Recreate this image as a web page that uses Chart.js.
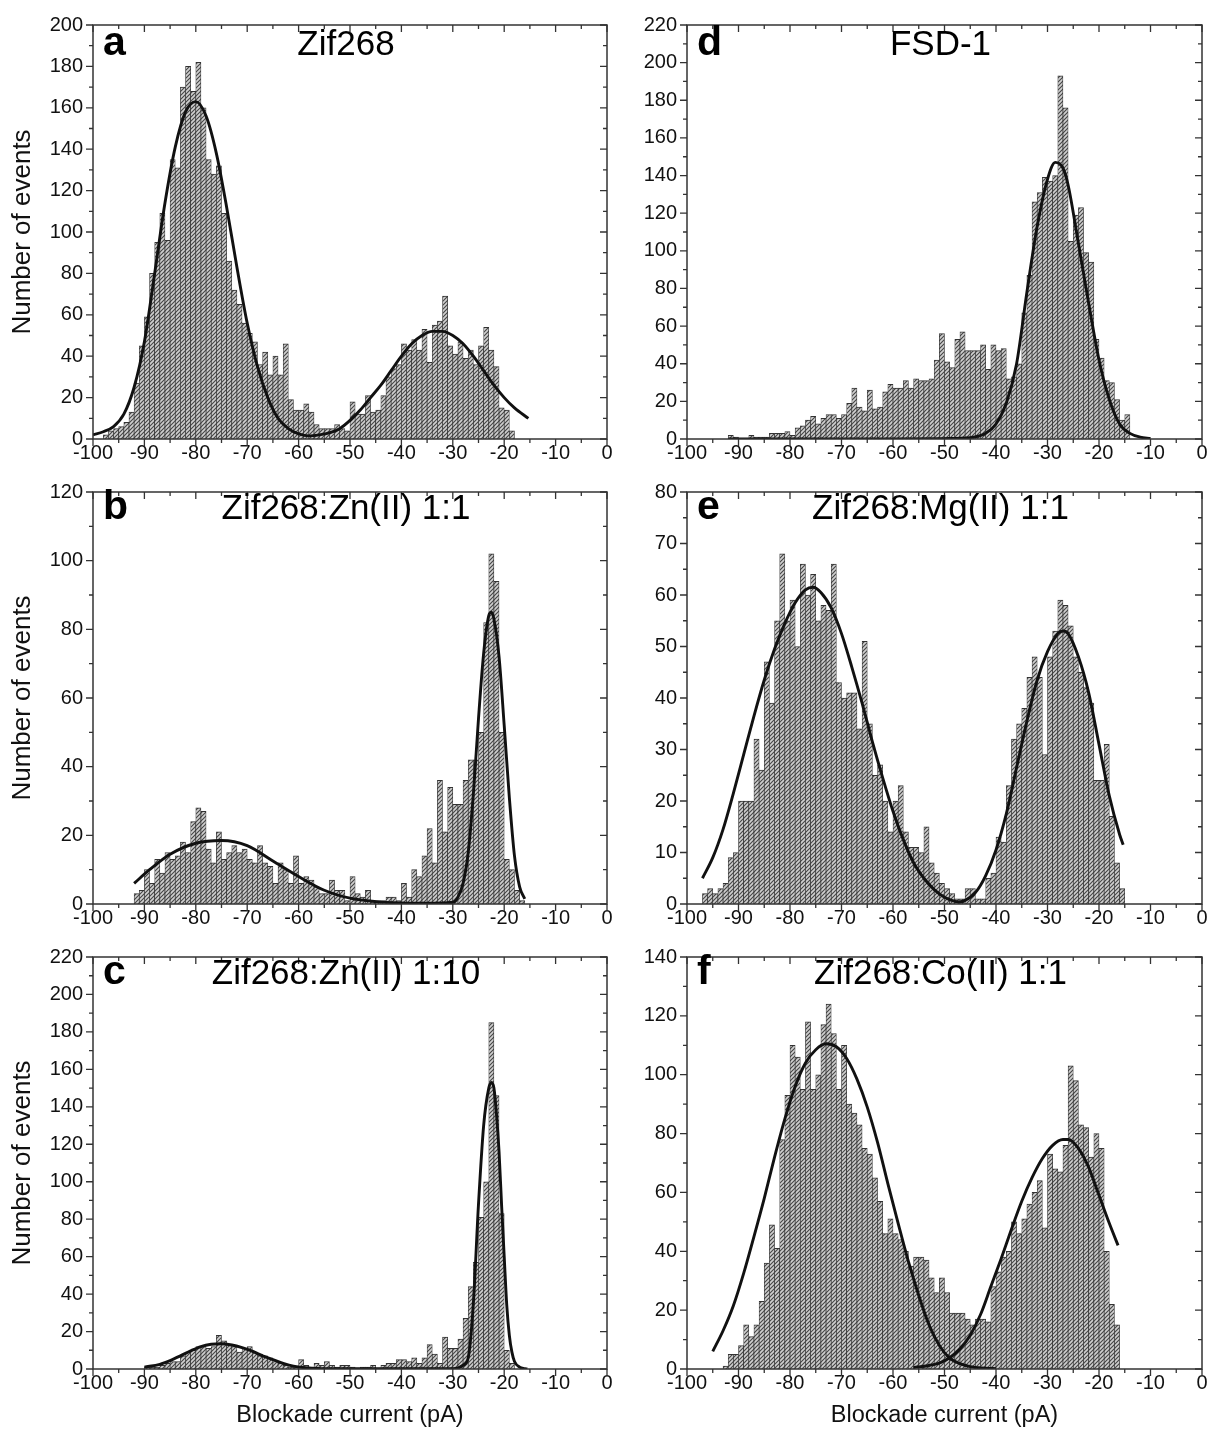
<!DOCTYPE html>
<html>
<head>
<meta charset="utf-8">
<script src="https://cdn.jsdelivr.net/npm/chart.js@4.4.0/dist/chart.umd.min.js"></script>
<style>
  body { margin: 0; background: #fff; width: 1211px; height: 1442px; position: relative; overflow: hidden;
         font-family: "Liberation Sans", Arial, sans-serif; }
  canvas { position: absolute; }
  .letter { position: absolute; font-weight: bold; font-size: 41px; line-height: 41px; color: #000; }
  .title { position: absolute; font-size: 35px; line-height: 35px; width: 600px; text-align: center; color: #000; }
</style>
</head>
<body>
<canvas id="pa" width="620" height="470" style="left:0;top:0"></canvas>
<canvas id="pd" width="591" height="470" style="left:620px;top:0"></canvas>
<canvas id="pb" width="620" height="465" style="left:0;top:470px"></canvas>
<canvas id="pe" width="591" height="465" style="left:620px;top:470px"></canvas>
<canvas id="pc" width="620" height="507" style="left:0;top:935px"></canvas>
<canvas id="pf" width="591" height="507" style="left:620px;top:935px"></canvas>

<script>
// histogram counts, 1 pA bins, first bin starts at *Start
var aStart = -98;
var aCounts = [2,4,5,6,8,13,27,45,59,80,
  95,109,96,135,131,170,180,168,182,160,
  135,128,132,109,86,72,65,56,51,47,
  36,42,31,40,31,46,19,14,14,17,
  13,7,5,5,5,7,5,4,18,12,
  12,21,13,14,21,30,34,36,46,43,
  48,43,53,37,55,57,69,45,41,47,
  39,43,36,45,54,43,35,15,14,4];

var bStart = -92;
var bCounts = [3,4,10,6,13,9,15,13,14,18,
  15,24,28,27,16,12,21,13,15,17,
  15,16,13,12,17,12,11,6,12,10,
  6,14,6,8,7,5,3,3,7,4,
  4,1,8,3,2,4,1,1,1,2,
  2,1,6,2,10,8,14,22,12,36,
  21,34,29,29,36,42,42,50,82,102,
  94,50,13,10,4,1];

var cStart = -90;
var cCounts = [1,1,1,2,3,4,4,7,9,10,
  12,12,11,12,18,15,13,12,9,11,
  12,9,8,7,6,4,3,2,1,1,
  5,2,1,3,2,4,2,1,2,2,
  1,0,1,1,2,0,2,3,3,5,
  5,4,6,3,6,13,8,3,17,11,
  11,16,27,44,57,81,100,185,146,83,
  10,3];

var dStart = -93;
var dCounts = [0,2,1,0,0,2,1,1,1,3,
  3,3,4,2,6,7,10,12,8,11,
  13,13,11,13,19,27,17,15,26,16,
  17,25,29,27,27,31,27,32,31,31,
  32,42,56,41,38,53,57,47,47,47,
  50,37,50,47,48,32,33,40,67,87,
  126,131,139,137,140,193,176,105,119,123,
  99,94,53,43,31,30,21,10,13];

var eStart = -97;
var eCounts = [2,3,2,3,4,9,10,20,20,20,
  32,26,47,39,55,68,55,59,50,66,
  60,64,55,58,57,66,43,40,41,41,
  34,51,35,25,27,20,14,20,23,14,
  11,11,10,15,8,6,4,3,2,1,
  1,3,3,1,1,5,6,13,12,23,
  32,35,38,44,48,44,29,48,53,59,
  58,54,48,45,42,39,24,24,31,17,
  8,3];

var fStart = -93;
var fCounts = [1,5,5,8,15,11,15,23,36,49,
  41,78,93,110,106,95,118,95,100,117,
  124,114,95,110,90,87,83,75,73,65,
  57,46,51,46,44,40,35,38,38,37,
  31,26,31,26,19,19,19,17,15,17,
  17,16,28,33,38,40,50,46,51,56,
  60,64,48,73,68,67,76,103,98,83,
  82,72,80,75,40,22,15];

// Gaussian fit curves, [current, count]
var fitA = [[-100,2],[-98,3.5],[-96,6],[-94,12],[-92,25],[-90,47],[-88,80],[-86,114],[-84,141],[-82,158],[-80,163],
  [-78,156],[-76,138],[-74,112],[-72,83],[-70,56],[-68,35],[-66,20],[-64,10],[-62,5],[-60,2.5],[-58,1.5],[-56,2],
  [-54,3],[-52,5],[-50,9],[-48,14],[-46,20],[-44,26],[-42,33],[-40,40],[-38,46],[-36,50],[-34,52],[-32,52],[-30,50],
  [-28,46],[-26,40],[-24,33],[-22,26],[-20,20],[-18,15],[-15.3,10]];
var fitB = [[-92,6],[-89,10],[-85,14.5],[-80,17.7],[-75,18.5],[-70,17],[-65,12.5],[-60,8],[-55,4],[-50,1.7],[-45,0.7],
  [-40,0.3],[-35,0.2],[-30,0.5],[-29,2],[-28,6],[-27,15],[-26,32],[-25,54],[-24,73],[-23,84],[-22.5,85],[-22,83],
  [-21,72],[-20,52],[-19,31],[-18,14],[-17,5],[-16,1.5]];
var fitC = [[-90,1],[-87,2.5],[-85,4.5],[-83,7],[-81,9.7],[-79,12],[-77,13.2],[-75,13.5],[-73,12.8],[-71,11.4],
  [-69,9.5],[-67,7],[-65,5],[-63,3],[-61,1.5],[-58,0.5],[-55,0.2],[-50,0.1],[-40,0.1],[-30,0.2],[-29,0.5],[-28,2],
  [-27,6],[-26,35],[-25,88],[-24,130],[-23,150],[-22.5,153],[-22,150],[-21.5,136],[-21,116],[-20.5,87],[-20,60],
  [-19.5,34],[-19,18],[-18.5,9],[-18,4],[-17,1],[-16,0.2],[-15.5,0]];
var fitD = [[-92,0],[-80,0],[-60,0],[-50,0.2],[-45,0.7],[-42,3],[-40,8],[-38,19],[-36,40],[-34,78],[-32,113],
  [-30,138],[-28.5,147],[-27,144],[-26,135],[-24,104],[-22,72],[-20,42],[-18,21],[-16,8],[-14,3],[-12,1],[-10,0.3]];
var fitE = [[-97,5],[-95,9],[-93,14.5],[-91,21.5],[-89,29],[-87,36.5],[-85,43.5],[-83,49.5],[-81,54.5],[-79,58.5],
  [-77,61],[-75.5,61.5],[-74,60.5],[-72,57.5],[-70,52.5],[-68,46],[-66,39],[-64,31.5],[-62,24.5],[-60,18],[-58,12.5],
  [-56,8],[-54,5],[-52,2.8],[-50,1.3],[-48,0.5],[-47,0.4],[-46,0.7],[-44,2.2],[-42,5.5],[-40,10.5],[-38,17.5],
  [-36,26.5],[-34,35.5],[-32,43.5],[-30,49],[-28,52.5],[-27,53],[-26,52.5],[-24,48],[-22,41],[-20,31],[-18,21],
  [-16,13.5],[-15.3,11.5]];
var fitF1 = [[-95,6],[-93,13],[-91,21.5],[-89,32.5],[-87,45],[-85,58],[-83,72],[-81,85],[-79,96],[-77,104],
  [-75,108.5],[-73,110.5],[-71,109.5],[-69,105.5],[-67,98.5],[-65,89],[-63,77],[-61,63],[-59,49.5],[-57,36.5],
  [-55,25],[-53,15],[-51,8],[-49,3.7],[-47,1.8],[-45,0.8],[-42,0.3],[-40,0.1]];
var fitF2 = [[-56,0.5],[-53,1.2],[-51,2],[-49,3.8],[-47,6.8],[-45,11.5],[-43,18.5],[-41,28],[-39,37.5],[-37,47.5],
  [-35,57],[-33,65],[-31,71.5],[-29,76],[-27,78],[-26,78],[-24,75],[-22,68.5],[-20,59],[-18,49.5],[-16.3,42]];

var xTitle = 'Blockade current (pA)';
var yTitle = 'Number of events';

Chart.defaults.font.family = '"Liberation Sans", Arial, sans-serif';
Chart.defaults.color = '#111';

// canvas box and plot box of each panel (page pixels)
var panels = [
  {id:'pa', letter:'a', title:'Zif268',             cx:0,   cy:0,   cw:620, ch:470, plot:[93,25,607,439],   ymax:200, ystep:20, start:aStart, counts:aCounts, fits:[fitA], yt:true,  xt:false},
  {id:'pd', letter:'d', title:'FSD-1',              cx:620, cy:0,   cw:591, ch:470, plot:[687,25,1202,439], ymax:220, ystep:20, start:dStart, counts:dCounts, fits:[fitD], yt:false, xt:false},
  {id:'pb', letter:'b', title:'Zif268:Zn(II) 1:1',  cx:0,   cy:470, cw:620, ch:465, plot:[93,489,607,904],  ymax:120, ystep:20, start:bStart, counts:bCounts, fits:[fitB], yt:true,  xt:false},
  {id:'pe', letter:'e', title:'Zif268:Mg(II) 1:1',  cx:620, cy:470, cw:591, ch:465, plot:[687,489,1202,904],ymax:80,  ystep:10, start:eStart, counts:eCounts, fits:[fitE], yt:false, xt:false},
  {id:'pc', letter:'c', title:'Zif268:Zn(II) 1:10', cx:0,   cy:935, cw:620, ch:507, plot:[93,954,607,1369], ymax:220, ystep:20, start:cStart, counts:cCounts, fits:[fitC], yt:true,  xt:true},
  {id:'pf', letter:'f', title:'Zif268:Co(II) 1:1',  cx:620, cy:935, cw:591, ch:507, plot:[687,954,1202,1369],ymax:140, ystep:20, start:fStart, counts:fCounts, fits:[fitF1, fitF2], yt:false, xt:true}
];

function hatch() {
  var c = document.createElement('canvas');
  c.width = 4; c.height = 4;
  var g = c.getContext('2d');
  g.fillStyle = '#cfcfcf';
  g.fillRect(0, 0, 4, 4);
  g.strokeStyle = '#454545';
  g.lineWidth = 1.1;
  g.beginPath();
  g.moveTo(0, 4); g.lineTo(4, 0);
  g.moveTo(-1, 1); g.lineTo(1, -1);
  g.moveTo(3, 5); g.lineTo(5, 3);
  g.stroke();
  return g.createPattern(c, 'repeat');
}

// box frame with mirrored ticks: out on left/bottom, in on top/right
var framePlugin = {
  id: 'frame',
  afterDatasetsDraw: function(chart, args, opts) {
    var ctx = chart.ctx, a = chart.chartArea, x = chart.scales.x, y = chart.scales.y;
    ctx.save();
    ctx.strokeStyle = '#333';
    ctx.lineWidth = 1.5;
    ctx.strokeRect(a.left, a.top, a.right - a.left, a.bottom - a.top);
    ctx.lineWidth = 1.3;
    ctx.beginPath();
    for (var v = -100; v <= 0; v += 5) {
      var px = x.getPixelForValue(v);
      var L = (v % 10 === 0) ? 7 : 4;
      ctx.moveTo(px, a.bottom); ctx.lineTo(px, a.bottom + L);
      ctx.moveTo(px, a.top); ctx.lineTo(px, a.top + L);
    }
    var half = opts.step / 2;
    for (var i = 0; i * half <= y.max + 1e-6; i++) {
      var py = y.getPixelForValue(i * half);
      var L2 = (i % 2 === 0) ? 7 : 4;
      ctx.moveTo(a.left, py); ctx.lineTo(a.left - L2, py);
      ctx.moveTo(a.right, py); ctx.lineTo(a.right - L2, py);
    }
    ctx.stroke();
    ctx.restore();
  }
};

var fill = hatch();

panels.forEach(function(p) {
  var W = p.plot[0] - p.cx;
  var H = p.cy + p.ch - p.plot[3];
  var padTop = p.plot[1] - p.cy;
  var padRight = p.cx + p.cw - p.plot[2];

  var bars = p.counts.map(function(v, i) { return {x: p.start + i + 0.5, y: v}; });
  var datasets = p.fits.map(function(f) {
    return {
      type: 'line',
      data: f.map(function(q) { return {x: q[0], y: q[1]}; }),
      borderColor: '#111',
      borderWidth: 2.9,
      pointRadius: 0,
      fill: false,
      cubicInterpolationMode: 'monotone',
      order: 1
    };
  });
  datasets.push({
    type: 'bar',
    data: bars,
    backgroundColor: fill,
    borderColor: '#333',
    borderWidth: {left: 0.7, right: 0.7, top: 1, bottom: 0},
    borderSkipped: false,
    barPercentage: 1,
    categoryPercentage: 1,
    order: 2
  });

  new Chart(document.getElementById(p.id), {
    type: 'bar',
    data: {datasets: datasets},
    plugins: [framePlugin],
    options: {
      responsive: false,
      animation: false,
      events: [],
      layout: {padding: {top: padTop, right: padRight, left: 0, bottom: 0}},
      plugins: {legend: {display: false}, tooltip: {enabled: false}, frame: {step: p.ystep}},
      scales: {
        x: {
          type: 'linear', min: -100, max: 0, offset: false,
          grid: {display: false, drawTicks: false},
          border: {display: false},
          ticks: {stepSize: 10, autoSkip: false, maxRotation: 0, padding: 2, font: {size: 20}, color: '#111'},
          title: {display: p.xt, text: xTitle, font: {size: 23.5}, color: '#111', padding: {top: 0, bottom: 12}},
          afterFit: function(s) { s.height = H; }
        },
        y: {
          min: 0, max: p.ymax,
          grid: {display: false, drawTicks: false},
          border: {display: false},
          ticks: {stepSize: p.ystep, padding: 10, font: {size: 20}, color: '#111'},
          title: {display: p.yt, text: yTitle, font: {size: 26}, color: '#111', padding: {top: 7, bottom: 0}},
          afterFit: function(s) { s.width = W; }
        }
      }
    }
  });

  var l = document.createElement('div');
  l.className = 'letter';
  l.textContent = p.letter;
  l.style.left = (p.plot[0] + 10) + 'px';
  l.style.top = (p.plot[1] - 4) + 'px';
  document.body.appendChild(l);

  var t = document.createElement('div');
  t.className = 'title';
  t.textContent = p.title;
  t.style.left = ((p.plot[0] + p.plot[2]) / 2 - 4 - 300) + 'px';
  t.style.top = (p.plot[1] + 0) + 'px';
  document.body.appendChild(t);
});
</script>
</body>
</html>
